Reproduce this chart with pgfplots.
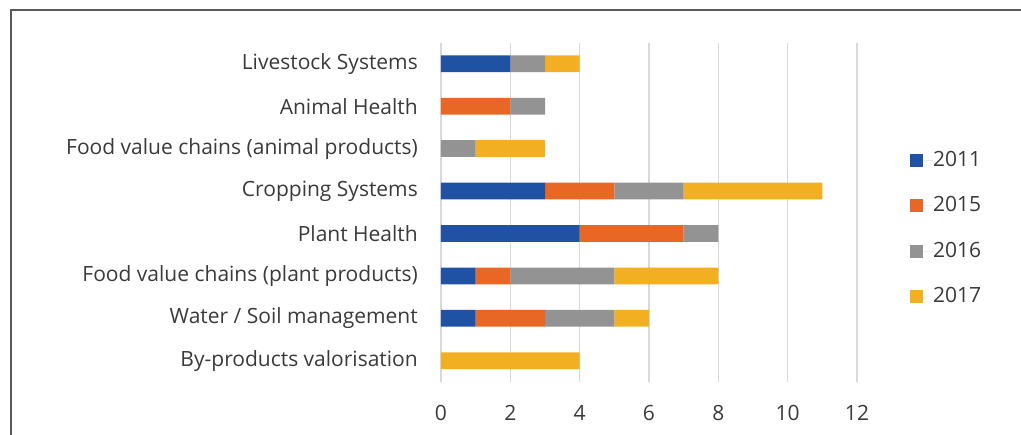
\documentclass[border=0pt]{standalone}
\usepackage{fontspec}
\setmainfont{Open Sans}
\usepackage{pgfplots}
\pgfplotsset{compat=1.18}
\definecolor{c11}{HTML}{1F52A3}
\definecolor{c15}{HTML}{E96725}
\definecolor{c16}{HTML}{939393}
\definecolor{c17}{HTML}{F2AF22}
\definecolor{txt}{HTML}{3A3A3A}
\begin{document}
\fontsize{21pt}{25pt}\selectfont
\begin{tikzpicture}[x=1pt,y=1pt]
\path[use as bounding box] (0,0) rectangle (1021,435);
\draw[line width=1.6pt, color=black!65] (11,0) -- (11,425) -- (1021,425);
\begin{axis}[
  at={(441pt,53pt)}, anchor=south west,
  scale only axis, width=416pt, height=339.5pt,
  xbar stacked, bar width=16.7pt,
  xmin=0, xmax=12, ymin=-0.5, ymax=7.5, y dir=reverse,
  xtick={0,2,...,12}, ytick={0,...,7},
  yticklabels={Livestock Systems, Animal Health, Food value chains (animal products), Cropping Systems, Plant Health, Food value chains (plant products), Water / Soil management, By-products valorisation},
  axis line style={draw=none}, major tick length=0pt,
  xmajorgrids, grid style={color=black!15, line width=1.5pt},
  /pgf/number format/assume math mode=true,
  tick label style={font=\fontsize{21pt}{25pt}\selectfont, color=txt},
  xticklabel style={inner sep=0pt, anchor=north, yshift=-23pt},
  yticklabel style={inner sep=0pt, anchor=east, xshift=-23pt},
  legend style={draw=none, at={(1.12,0.452)}, anchor=west, font=\fontsize{21pt}{25pt}\selectfont, text=txt, row sep=27pt, nodes={inner sep=0pt}},
  legend cell align=left,
  legend image code/.code={\fill[#1] (0pt,-6.5pt) rectangle (13pt,6.5pt); \path (0pt,0pt) -- (23pt,0pt);},
  every axis plot/.append style={draw=none},
]
\addplot[fill=c11] coordinates {(2,0) (0,1) (0,2) (3,3) (4,4) (1,5) (1,6) (0,7)};
\addplot[fill=c15] coordinates {(0,0) (2,1) (0,2) (2,3) (3,4) (1,5) (2,6) (0,7)};
\addplot[fill=c16] coordinates {(1,0) (1,1) (1,2) (2,3) (1,4) (3,5) (2,6) (0,7)};
\addplot[fill=c17] coordinates {(1,0) (0,1) (2,2) (4,3) (0,4) (3,5) (1,6) (4,7)};
\legend{2011,2015,2016,2017}
\end{axis}
\end{tikzpicture}
\end{document}
